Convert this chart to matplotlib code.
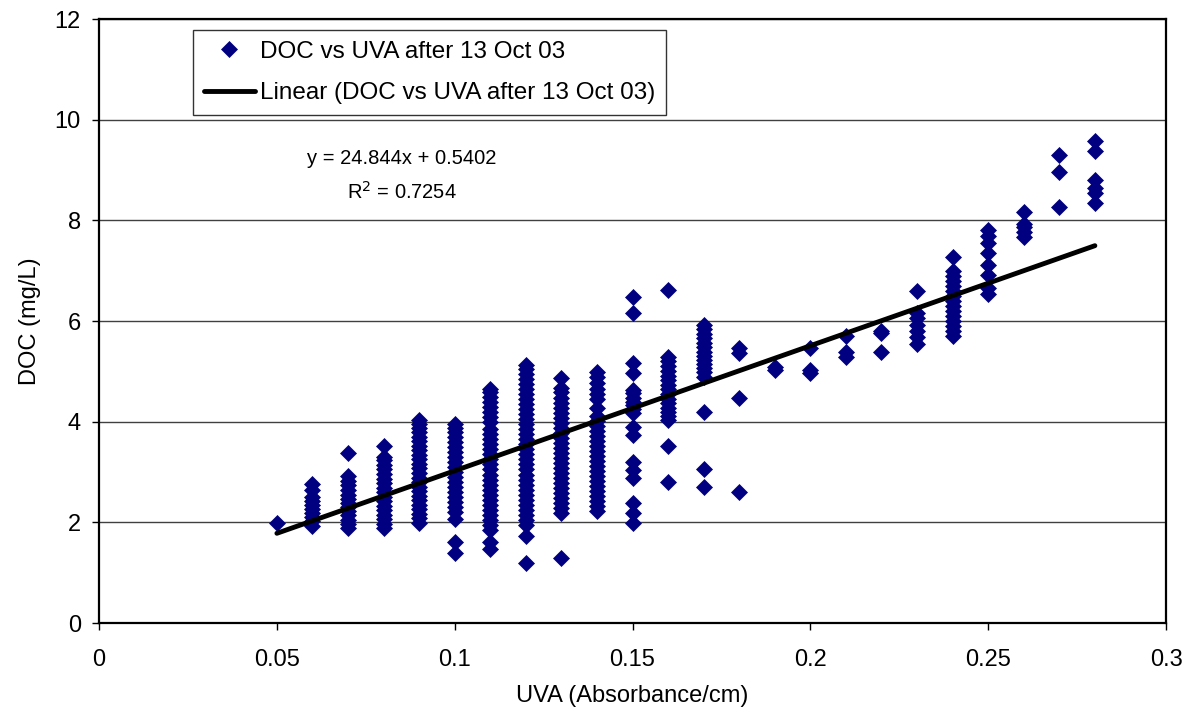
import numpy as np
import matplotlib
matplotlib.use("Agg")
import matplotlib.pyplot as plt

plt.rcParams["font.family"] = ["Liberation Sans", "DejaVu Sans"]

# UVA levels (Absorbance/cm) and the DOC readings (mg/L) at each level
uva_levels = [0.05, 0.06, 0.07, 0.08, 0.09, 0.10, 0.11, 0.12, 0.13, 0.14, 0.15, 0.16,
              0.17, 0.18, 0.19, 0.20, 0.21, 0.22, 0.23, 0.24, 0.25, 0.26, 0.27, 0.28]

doc_columns = [
    [1.98],
    [1.93, 2.02, 2.1, 2.18, 2.26, 2.34, 2.42, 2.5, 2.64, 2.76],
    [1.88, 1.96, 2.05, 2.14, 2.22, 2.3, 2.38, 2.46, 2.55, 2.64, 2.74, 2.82, 2.92, 3.38],
    [1.88, 1.97, 2.06, 2.15, 2.24, 2.33, 2.42, 2.51, 2.6, 2.69, 2.78, 2.87, 2.96, 3.05,
     3.14, 3.23, 3.3, 3.52],
    [1.99, 2.08, 2.17, 2.26, 2.35, 2.44, 2.53, 2.62, 2.71, 2.8, 2.89, 2.98, 3.07, 3.16,
     3.25, 3.34, 3.43, 3.52, 3.61, 3.7, 3.79, 3.88, 3.96, 4.03],
    [1.39, 1.6, 2.06, 2.2, 2.3, 2.4, 2.5, 2.6, 2.7, 2.8, 2.9, 3.0, 3.1, 3.2, 3.3, 3.4,
     3.5, 3.6, 3.7, 3.8, 3.88, 3.95],
    [1.47, 1.6, 1.85, 1.95, 2.05, 2.15, 2.25, 2.35, 2.45, 2.55, 2.65, 2.75, 2.85, 2.95,
     3.05, 3.15, 3.25, 3.35, 3.45, 3.55, 3.65, 3.75, 3.85, 4.0, 4.1, 4.2, 4.3, 4.4, 4.5,
     4.58, 4.65],
    [1.19, 1.72, 1.95, 2.05, 2.15, 2.25, 2.35, 2.45, 2.55, 2.65, 2.75, 2.85, 2.95, 3.05,
     3.15, 3.25, 3.35, 3.45, 3.55, 3.65, 3.75, 3.85, 3.95, 4.05, 4.15, 4.25, 4.35, 4.45,
     4.55, 4.65, 4.75, 4.85, 4.95, 5.05, 5.13],
    [1.29, 2.18, 2.28, 2.38, 2.48, 2.58, 2.68, 2.78, 2.88, 2.98, 3.08, 3.18, 3.28, 3.38,
     3.48, 3.58, 3.68, 3.78, 3.88, 3.98, 4.08, 4.18, 4.28, 4.38, 4.48, 4.58, 4.67, 4.87],
    [2.22, 2.32, 2.42, 2.52, 2.62, 2.72, 2.82, 2.92, 3.02, 3.12, 3.22, 3.32, 3.42, 3.52,
     3.62, 3.72, 3.82, 3.92, 4.02, 4.12, 4.27, 4.45, 4.55, 4.65, 4.77, 4.88, 4.99],
    [1.99, 2.19, 2.38, 2.88, 3.04, 3.2, 3.73, 3.89, 4.17, 4.25, 4.33, 4.4, 4.48, 4.56,
     4.63, 4.97, 5.17, 6.16, 6.48],
    [2.8, 3.52, 4.03, 4.12, 4.2, 4.28, 4.37, 4.46, 4.55, 4.64, 4.73, 4.82, 4.91, 5.0,
     5.1, 5.2, 5.29, 6.62],
    [2.7, 3.06, 4.19, 4.89, 4.98, 5.06, 5.14, 5.22, 5.3, 5.39, 5.48, 5.57, 5.66, 5.75,
     5.84, 5.92],
    [2.6, 4.47, 5.36, 5.46],
    [5.03, 5.09],
    [4.97, 5.02, 5.46],
    [5.28, 5.38, 5.7],
    [5.38, 5.76, 5.8],
    [5.55, 5.68, 5.8, 5.92, 6.05, 6.16, 6.6],
    [5.7, 5.8, 5.9, 6.0, 6.1, 6.2, 6.3, 6.4, 6.5, 6.6, 6.7, 6.8, 6.9, 7.0, 7.27],
    [6.53, 6.66, 6.91, 7.11, 7.35, 7.55, 7.68, 7.8],
    [7.67, 7.77, 7.86, 7.92, 8.17],
    [8.27, 8.96, 9.3],
    [8.35, 8.54, 8.64, 8.8, 9.38, 9.58],
]

# trendline as reported on the chart
slope = 24.844
intercept = 0.5402
r_squared = 0.7254

x_ticks = [0, 0.05, 0.1, 0.15, 0.2, 0.25, 0.3]
x_tick_labels = ["0", "0.05", "0.1", "0.15", "0.2", "0.25", "0.3"]
y_ticks = [0, 2, 4, 6, 8, 10, 12]

uva = np.concatenate([[u] * len(c) for u, c in zip(uva_levels, doc_columns)])
doc = np.concatenate(doc_columns)

fig = plt.figure(figsize=(11.92, 7.23), dpi=100)
ax = fig.add_axes([0.0831, 0.1383, 0.9782 - 0.0831, 0.9737 - 0.1383])

for yv in y_ticks[1:]:
    ax.axhline(yv, color="#404040", lw=1, zorder=0)

pts, = ax.plot(uva, doc, ls="none", marker="D", ms=8.6, mfc="#000080",
               mec="#000080", mew=0.5, label="DOC vs UVA after 13 Oct 03", zorder=2)

fit_x = np.array([min(uva_levels), max(uva_levels)])
fit_line, = ax.plot(fit_x, slope * fit_x + intercept, color="black", lw=3.5,
                    solid_capstyle="round", label="Linear (DOC vs UVA after 13 Oct 03)",
                    zorder=3)

ax.set_xlim(0, 0.3)
ax.set_ylim(0, 12)
ax.set_xticks(x_ticks)
ax.set_xticklabels(x_tick_labels)
ax.set_yticks(y_ticks)
ax.tick_params(direction="out", length=5, width=1, labelsize=17, pad=14)
ax.tick_params(axis="y", pad=8)
for s in ax.spines.values():
    s.set_linewidth(1.6)
    s.set_color("black")

ax.set_xlabel("UVA (Absorbance/cm)", fontsize=17, labelpad=10)
ax.set_ylabel("DOC (mg/L)", fontsize=17, labelpad=10)

leg = ax.legend(handles=[pts, fit_line], loc="upper left",
                bbox_to_anchor=(193 / 1192, 1 - 30 / 723), bbox_transform=fig.transFigure,
                fontsize=17.5, frameon=True, fancybox=False, borderpad=0.45,
                handlelength=2.1, handletextpad=0.2, labelspacing=0.8, borderaxespad=0)
leg.get_frame().set_edgecolor("black")
leg.get_frame().set_linewidth(1)

ax.text(402 / 1192, 1 - 176 / 723,
        f"y = {slope}x + {intercept}\nR$^2$ = {r_squared}",
        transform=fig.transFigure, ha="center", va="center", fontsize=14.5,
        linespacing=1.7)

fig.savefig("out.png", dpi=100)
